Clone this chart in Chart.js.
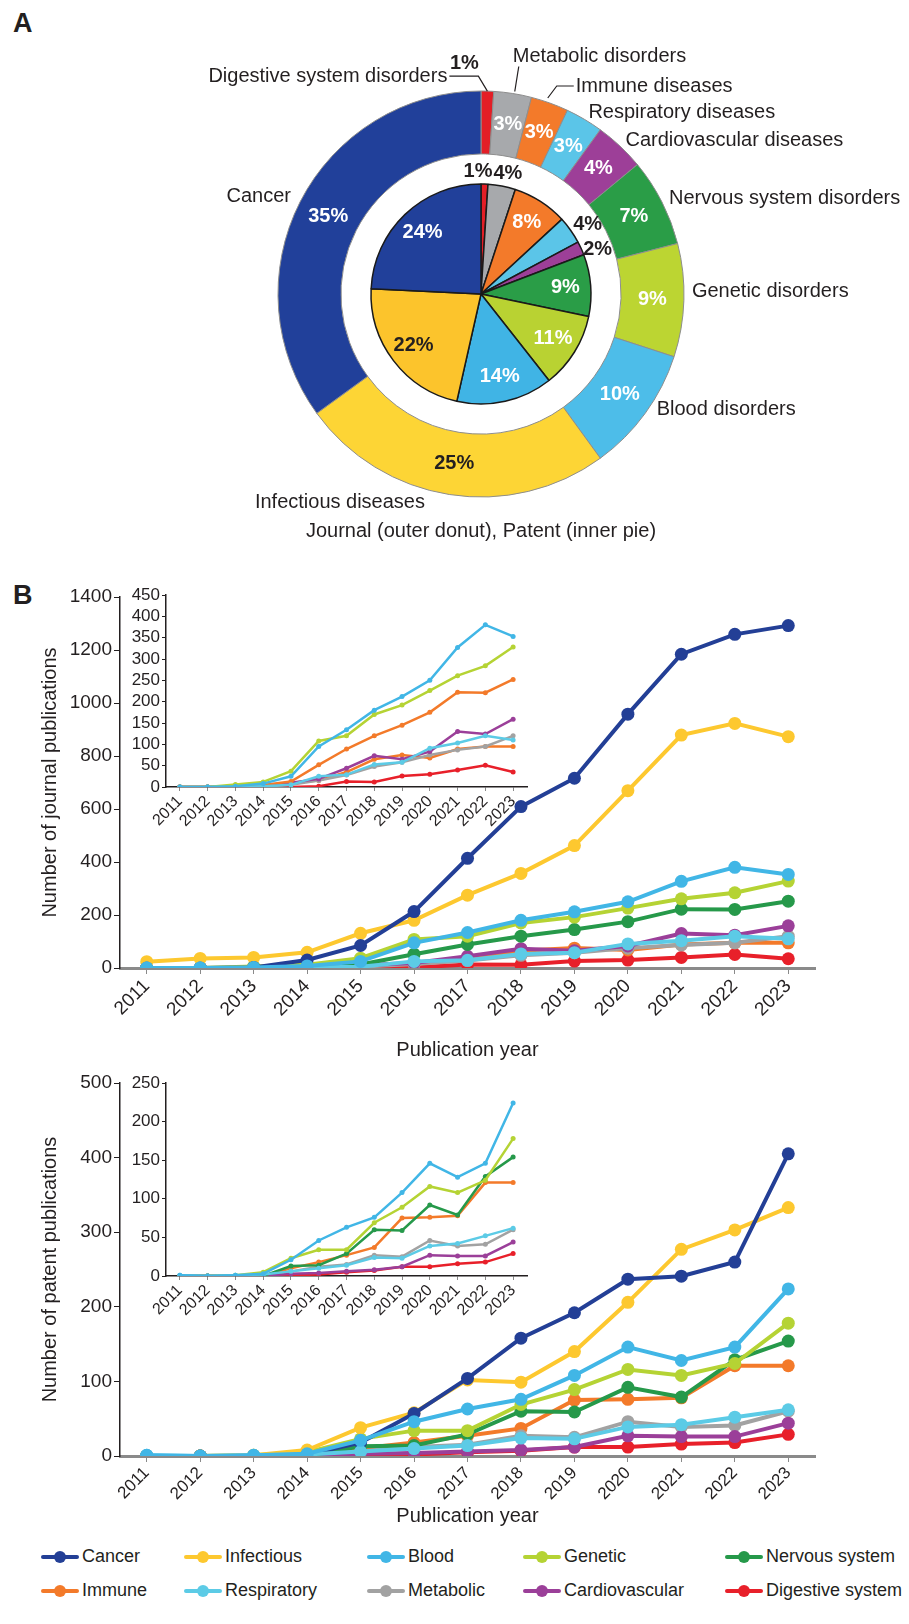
<!DOCTYPE html>
<html>
<head>
<meta charset="utf-8">
<script src="https://cdn.jsdelivr.net/npm/chart.js@4.4.1/dist/chart.umd.min.js"></script>
<style>
  body { margin: 0; background: #fff; font-family: "Liberation Sans", Arial, sans-serif; color: #231f20; }
  #page { position: relative; width: 909px; height: 1624px; overflow: hidden; }
  .box { position: absolute; }
  .letter { position: absolute; font-weight: bold; font-size: 27px; }
  .caption { position: absolute; left: 0; width: 962px; text-align: center; font-size: 20px; }
  .leg { position: absolute; font-size: 18px; line-height: 24px; white-space: nowrap; }
  .mk { display: inline-block; position: relative; width: 38px; height: 4px; margin-right: 3px;
        vertical-align: middle; background: var(--c); border-radius: 2px; }
  .mk::after { content: ''; position: absolute; left: 13px; top: -4px; width: 12px; height: 12px;
        border-radius: 50%; background: var(--c); }
</style>
</head>
<body>
<div id="page">
  <div class="letter" style="left:13px; top:8px;">A</div>
  <div class="box" style="left:0; top:0; width:909px; height:560px;"><canvas id="donut"></canvas></div>
  <div class="box" style="left:0; top:0; width:909px; height:560px;"><canvas id="pie"></canvas></div>
  <div class="caption" style="top:519px;">Journal (outer donut), Patent (inner pie)</div>

  <div class="letter" style="left:13px; top:580px;">B</div>
  <div class="box" style="left:0; top:580px; width:909px; height:486px;"><canvas id="journal"></canvas></div>
  <div class="box" style="left:100px; top:580px; width:440px; height:270px;"><canvas id="journalInset"></canvas></div>
  <div class="box" style="left:0; top:1068px; width:909px; height:464px;"><canvas id="patent"></canvas></div>
  <div class="box" style="left:100px; top:1068px; width:440px; height:271px;"><canvas id="patentInset"></canvas></div>

  <div id="legend" class="box" style="left:0; top:1544px; width:909px; height:70px;"></div>
</div>

<script>
// Panel A: share of publications per disease area (%), clockwise from the top
const diseaseNames = ['Digestive system disorders', 'Metabolic disorders', 'Immune diseases',
  'Respiratory diseases', 'Cardiovascular diseases', 'Nervous system disorders',
  'Genetic disorders', 'Blood disorders', 'Infectious diseases', 'Cancer'];
const journalShare = [1, 3, 3, 3, 4, 7, 9, 10, 25, 35];
const patentShare = [1, 4, 8, 4, 2, 9, 11, 14, 22, 24];
const shareColors = ['#e31e26', '#a7a9ac', '#f37a2a', '#5bc5e8', '#9d3f98',
  '#2a9d47', '#bcd532', '#4dbde9', '#fdd535', '#21409a'];
const pieColors = ['#e31e26', '#a7a9ac', '#f37a2a', '#5bc5e8', '#9d3f98',
  '#2a9d47', '#b9d232', '#40b4e5', '#fcc42c', '#21409a'];

// Panel B: publications per year
const years = ['2011', '2012', '2013', '2014', '2015', '2016', '2017',
  '2018', '2019', '2020', '2021', '2022', '2023'];
const seriesNames = ['Cancer', 'Infectious', 'Blood', 'Genetic', 'Nervous system',
  'Immune', 'Respiratory', 'Metabolic', 'Cardiovascular', 'Digestive system'];
const lineColors = ['#233f96', '#fdc82f', '#41b6e6', '#b5d334', '#26994a',
  '#f37a2a', '#5ccbe6', '#a2a2a2', '#9b3f99', '#e8202a'];
// which series sits on top when points overlap (0 = top)
const drawOrder = [2, 3, 0, 4, 5, 8, 1, 7, 6, 9];

const journalCancer = [0, 0, 2, 30, 85, 213, 414, 609, 716, 958, 1184, 1259, 1292];
const journalInfectious = [24, 36, 40, 59, 131, 180, 275, 357, 462, 669, 879, 923, 873];
const journalBlood = [0, 0, 2, 8, 25, 95, 134, 180, 212, 250, 327, 380, 353];
const journalGenetic = [0, 0, 6, 12, 37, 108, 120, 170, 192, 226, 261, 284, 328];
const journalNervous = [0, 0, 1, 5, 13, 52, 89, 120, 145, 175, 222, 221, 252];
const journalImmune = [0, 0, 0, 2, 10, 15, 35, 65, 75, 68, 89, 95, 95];
const journalRespiratory = [0, 0, 0, 2, 5, 25, 29, 53, 58, 91, 103, 120, 110];
const journalMetabolic = [0, 0, 0, 1, 5, 15, 28, 48, 58, 75, 87, 95, 120];
const journalCardio = [0, 0, 0, 2, 10, 19, 44, 73, 65, 83, 130, 124, 159];
const journalDigestive = [0, 0, 0, 0, 0, 2, 13, 12, 26, 30, 40, 51, 35];

const patentCancer = [0, 0, 0, 2, 18, 57, 104, 158, 192, 237, 241, 260, 405];
const patentInfectious = [0, 0, 1, 8, 38, 58, 102, 99, 140, 206, 277, 303, 333];
const patentBlood = [1, 0, 1, 3, 21, 46, 63, 76, 108, 146, 128, 146, 224];
const patentGenetic = [0, 0, 1, 5, 23, 34, 34, 69, 89, 116, 108, 124, 178];
const patentNervous = [0, 0, 0, 0, 13, 14, 29, 60, 59, 92, 79, 129, 154];
const patentImmune = [0, 0, 0, 0, 10, 18, 27, 37, 75, 76, 78, 121, 121];
const patentRespiratory = [1, 0, 1, 2, 6, 10, 14, 24, 23, 39, 42, 52, 62];
const patentMetabolic = [0, 0, 0, 1, 6, 12, 15, 27, 25, 46, 39, 41, 60];
const patentCardio = [0, 0, 0, 0, 3, 4, 6, 8, 12, 27, 26, 26, 44];
const patentDigestive = [0, 0, 0, 0, 1, 2, 5, 7, 12, 12, 16, 18, 29];

const journalSeries = [journalCancer, journalInfectious, journalBlood, journalGenetic, journalNervous,
  journalImmune, journalRespiratory, journalMetabolic, journalCardio, journalDigestive];
const patentSeries = [patentCancer, patentInfectious, patentBlood, patentGenetic, patentNervous,
  patentImmune, patentRespiratory, patentMetabolic, patentCardio, patentDigestive];

// insets leave out cancer and infectious; the journal inset draws nervous system in orange
const insetIndex = [2, 3, 4, 5, 6, 7, 8, 9];
const journalInsetColors = ['#41b6e6', '#b5d334', '#f37a2a', '#f37a2a', '#5ccbe6', '#a2a2a2', '#9b3f99', '#e8202a'];
const patentInsetColors = insetIndex.map(i => lineColors[i]);

const DARK = '#231f20';
Chart.defaults.font.family = '"Liberation Sans", Arial, sans-serif';
Chart.defaults.color = DARK;
Chart.defaults.animation = false;

// labels for the donut and the pie
const sliceLabels = {
    id: 'sliceLabels',
    afterDatasetsDraw(chart, args, o) {
        const ctx = chart.ctx;
        const values = chart.data.datasets[0].data;
        ctx.save();
        ctx.textBaseline = 'middle';
        chart.getDatasetMeta(0).data.forEach((arc, i) => {
            const a = arc.getProps(['x', 'y', 'startAngle', 'endAngle', 'innerRadius', 'outerRadius'], true);
            const mid = (a.startAngle + a.endAngle) / 2;
            const c = Math.cos(mid), s = Math.sin(mid);
            const pct = values[i] + '%';
            ctx.font = 'bold 20px "Liberation Sans", Arial, sans-serif';
            ctx.textAlign = 'center';

            if (o.mode === 'pie') {
                const outside = values[i] < 5;
                const r = outside ? a.outerRadius + 16 : a.outerRadius * 0.77;
                const nudge = o.nudge[i] || [0, 0];
                ctx.fillStyle = outside || o.dark.includes(i) ? DARK : '#fff';
                ctx.fillText(pct, a.x + r * c + nudge[0], a.y + r * s + nudge[1]);
                return;
            }

            // ring: edge point at the middle of the slice
            const ex = a.x + a.outerRadius * c, ey = a.y + a.outerRadius * s;
            const lead = o.leaders[i];
            if (lead) {
                ctx.strokeStyle = DARK;
                ctx.lineWidth = 1.2;
                ctx.beginPath();
                lead.line.forEach((p, k) => k ? ctx.lineTo(ex + p[0], ey + p[1]) : ctx.moveTo(ex + p[0], ey + p[1]));
                ctx.stroke();
                if (lead.pct) {
                    ctx.fillStyle = DARK;
                    ctx.fillText(pct, ex + lead.pct[0], ey + lead.pct[1]);
                } else {
                    const r = (a.innerRadius + a.outerRadius) / 2;
                    ctx.fillStyle = '#fff';
                    ctx.fillText(pct, a.x + r * c, a.y + r * s);
                }
                ctx.font = '20px "Liberation Sans", Arial, sans-serif';
                ctx.fillStyle = DARK;
                ctx.textAlign = lead.text[2];
                ctx.fillText(o.names[i], ex + lead.text[0], ey + lead.text[1]);
                return;
            }
            const r = (a.innerRadius + a.outerRadius) / 2;
            ctx.fillStyle = o.dark.includes(i) ? DARK : '#fff';
            ctx.fillText(pct, a.x + r * c, a.y + r * s);

            const nudge = o.nudge[i] || [0, 0];
            const rl = a.outerRadius + 8;
            ctx.font = '20px "Liberation Sans", Arial, sans-serif';
            ctx.fillStyle = DARK;
            ctx.textAlign = c >= 0 ? 'left' : 'right';
            ctx.fillText(o.names[i], a.x + rl * c + nudge[0], a.y + rl * s + nudge[1]);
        });
        ctx.restore();
    }
};

new Chart(document.getElementById('donut'), {
    type: 'doughnut',
    data: {
        labels: diseaseNames,
        datasets: [{ data: journalShare, backgroundColor: shareColors, borderColor: '#8d8d8d', borderWidth: 1 }]
    },
    options: {
        responsive: true, maintainAspectRatio: false,
        radius: 203, cutout: '69%',
        layout: { padding: { left: 53, top: 28 } },
        plugins: {
            legend: { display: false }, tooltip: { enabled: false },
            sliceLabels: {
                mode: 'ring', names: diseaseNames, dark: [8],
                leaders: {
                    0: { line: [[-38, -15], [-9, -15], [0, 0]], text: [-40, -15, 'right'], pct: [-23, -28] },
                    1: { line: [[6, -27], [2, -2]], text: [0, -37, 'left'] },
                    2: { line: [[24, -17], [7, -17], [-2, -5]], text: [26, -17, 'left'] }
                },
                nudge: { 6: [0, -9], 7: [5, -9], 8: [-23, 0], 9: [-2, -2] }
            }
        }
    },
    plugins: [sliceLabels]
});

new Chart(document.getElementById('pie'), {
    type: 'pie',
    data: {
        labels: diseaseNames,
        datasets: [{ data: patentShare, backgroundColor: pieColors, borderColor: '#1a1a1a', borderWidth: 1.5 }]
    },
    options: {
        responsive: true, maintainAspectRatio: false,
        radius: 110,
        layout: { padding: { left: 53, top: 28 } },
        plugins: {
            legend: { display: false }, tooltip: { enabled: false },
            sliceLabels: { mode: 'pie', dark: [8], nudge: { 0: [-7, 3], 1: [3, 3], 3: [4, 4], 4: [2, 8] } }
        }
    },
    plugins: [sliceLabels]
});

// line charts
function lineSets(series, idx, colors, radius, width) {
    return idx.map((k, j) => ({
        label: seriesNames[k],
        data: series[k],
        borderColor: colors[j],
        backgroundColor: colors[j],
        pointRadius: radius,
        pointHoverRadius: radius,
        pointBorderWidth: 0,
        borderWidth: width,
        order: drawOrder[k],
        tension: 0
    }));
}

function lineOptions(cfg) {
    return {
        responsive: true, maintainAspectRatio: false,
        layout: { padding: cfg.padding },
        plugins: { legend: { display: false }, tooltip: { enabled: false } },
        scales: {
            x: {
                offset: true,
                grid: { drawOnChartArea: false, offset: false, tickLength: cfg.inset ? 4 : 6, color: '#8a8a8a' },
                border: { color: cfg.inset ? DARK : '#8a8a8a', width: cfg.inset ? 1.5 : 3 },
                ticks: { autoSkip: false, maxRotation: 45, minRotation: 45, padding: 1,
                         font: { size: cfg.xFont } },
                title: cfg.xTitle ? { display: true, text: cfg.xTitle, font: { size: 20 }, padding: { top: 4, bottom: 4 } } : { display: false },
                afterFit(s) { s.height = cfg.xHeight; }
            },
            y: {
                min: 0, max: cfg.max,
                grid: { drawOnChartArea: false, tickLength: cfg.inset ? 4 : 6, color: DARK },
                border: { color: DARK, width: 1.5 },
                ticks: { stepSize: cfg.step, autoSkip: false, padding: 2, font: { size: cfg.inset ? 17 : 19 },
                         callback: v => String(v) },
                title: cfg.yTitle ? { display: true, text: cfg.yTitle, font: { size: 20 }, padding: { top: 4, bottom: 4 } } : { display: false },
                afterFit(s) { s.width = cfg.yWidth; }
            }
        }
    };
}

const allIndex = seriesNames.map((n, i) => i);

new Chart(document.getElementById('journal'), {
    type: 'line',
    data: { labels: years, datasets: lineSets(journalSeries, allIndex, lineColors, 6.5, 4) },
    options: lineOptions({ padding: { left: 34, right: 94, top: 17, bottom: 0 }, yWidth: 86, xHeight: 98, xFont: 19,
        max: 1400, step: 200, yTitle: 'Number of journal publications', xTitle: 'Publication year' })
});

new Chart(document.getElementById('journalInset'), {
    type: 'line',
    data: { labels: years, datasets: lineSets(journalSeries, insetIndex, journalInsetColors, 2.5, 2.5) },
    options: lineOptions({ inset: true, padding: { left: 0, right: 13, top: 15, bottom: 0 }, yWidth: 66, xHeight: 63, xFont: 16,
        max: 450, step: 50 })
});

new Chart(document.getElementById('patent'), {
    type: 'line',
    data: { labels: years, datasets: lineSets(patentSeries, allIndex, lineColors, 6.5, 4) },
    options: lineOptions({ padding: { left: 34, right: 94, top: 15, bottom: 0 }, yWidth: 86, xHeight: 76, xFont: 17,
        max: 500, step: 100, yTitle: 'Number of patent publications', xTitle: 'Publication year' })
});

new Chart(document.getElementById('patentInset'), {
    type: 'line',
    data: { labels: years, datasets: lineSets(patentSeries, insetIndex, patentInsetColors, 2.5, 2.5) },
    options: lineOptions({ inset: true, padding: { left: 0, right: 13, top: 15, bottom: 0 }, yWidth: 66, xHeight: 63, xFont: 16,
        max: 250, step: 50 })
});

// legend shared by both line charts
const legendCols = [41, 184, 367, 523, 725];
const legendBox = document.getElementById('legend');
seriesNames.forEach((name, i) => {
    const item = document.createElement('div');
    item.className = 'leg';
    item.style.left = legendCols[i % 5] + 'px';
    item.style.top = (i < 5 ? 0 : 34) + 'px';
    item.innerHTML = '<span class="mk" style="--c:' + lineColors[i] + '"></span>' + name;
    legendBox.appendChild(item);
});
</script>
</body>
</html>
